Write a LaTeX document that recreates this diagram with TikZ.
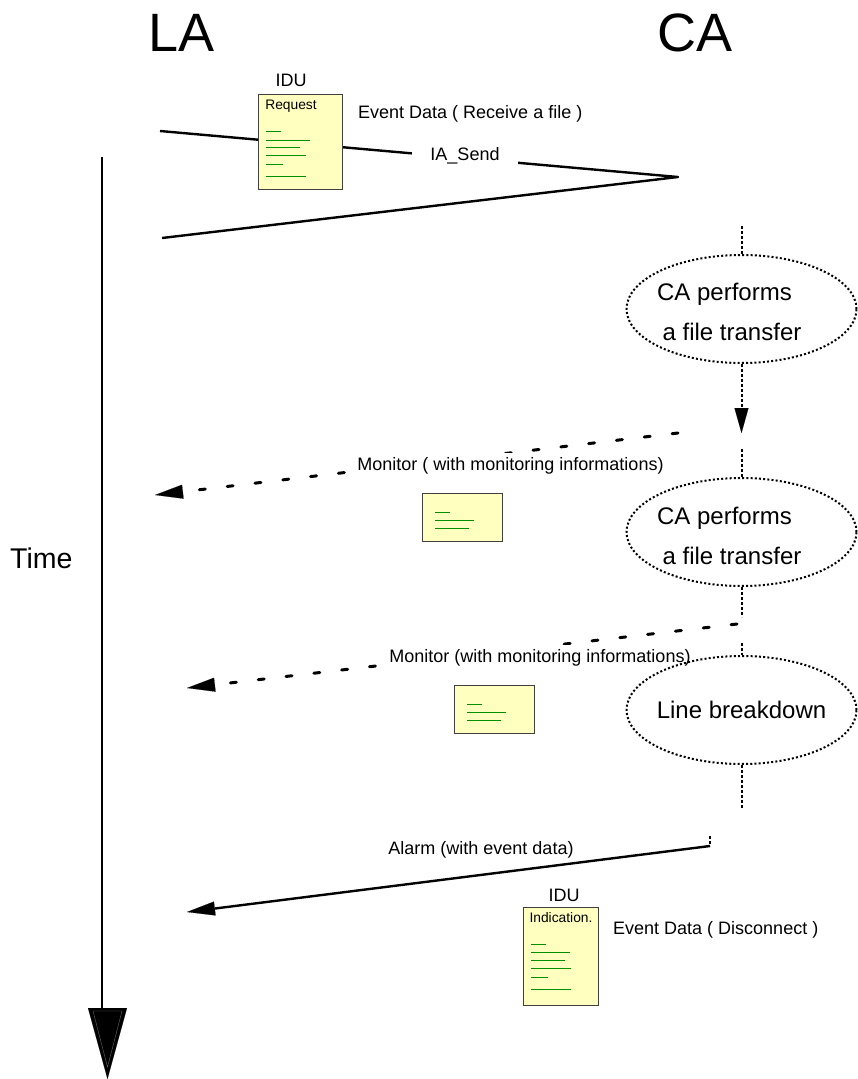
\documentclass[tikz,border=0pt]{standalone}
\usepackage{fontspec}
\setmainfont{Liberation Sans}
\usetikzlibrary{arrows.meta,shapes.geometric}
\definecolor{docyellow}{HTML}{FFFFC0}
\definecolor{docgreen}{HTML}{008F00}
\tikzstyle{bigtitle} = [inner sep=0pt, font=\fontsize{54}{54}\selectfont]
\tikzstyle{bigtext} = [inner sep=0pt, font=\fontsize{24}{24}\selectfont]
\tikzstyle{note} = [inner sep=0pt, font=\fontsize{18}{18}\selectfont]
\tikzstyle{whitenote} = [note, fill=white, inner xsep=5pt, inner ysep=5pt]
\tikzstyle{doctitle} = [inner sep=0pt, font=\fontsize{13.8}{14}\selectfont]
\tikzstyle{doc} = [rectangle, draw=black!75, line width=1pt, fill=docyellow, inner sep=0pt]
\tikzstyle{cloud} = [ellipse, draw=black, line width=2pt, dash pattern=on 2pt off 2.2pt, minimum width=230pt, minimum height=108pt, inner sep=0pt]
\tikzstyle{dots} = [line width=2pt, dash pattern=on 2.5pt off 2.5pt]
\tikzstyle{solid line} = [line width=2.4pt, line join=round]
\tikzstyle{smallhead} = [-{Triangle[length=28pt,width=14pt]}, line width=0.1pt]
\tikzstyle{dashline} = [line width=3pt, dash pattern=on 6pt off 22pt, line cap=round]
\tikzstyle{textline} = [docgreen, line width=1pt]
\begin{document}
\begin{tikzpicture}[x=1pt,y=-1pt]
\useasboundingbox (0,0) rectangle (857,1079);
% titles
\node (LA)[bigtitle] at (181.5,33){LA};
\node (CA)[bigtitle] at (695,33){CA};
\node (Time)[bigtext, anchor=west, font=\fontsize{28.5}{29}\selectfont] at (10,558){Time};
% time axis
\coordinate (timeTop) at (102,157);
\coordinate (timeBase) at (102,1008);
\coordinate (headBase) at (107.5,1008);
\coordinate (timeEnd) at (107.5,1079);
\draw [solid line](timeTop) -- (timeBase);
\draw [-{Triangle[length=71pt,width=39pt]}, line width=0.1pt](headBase) -- (timeEnd);
\draw [black!60, line width=0.4pt](93,1011) -- (122,1011) -- (107.5,1067) -- cycle;
% request
\coordinate (sendStart) at (160,131);
\coordinate (sendTurn) at (678,177);
\coordinate (sendEnd) at (162,238);
\draw [solid line](sendStart) -- (sendTurn) -- (sendEnd);
\node (IASend)[whitenote, inner xsep=18pt] at (465,156){IA\_Send};
\node (ReqDoc)[doc, minimum width=84pt, minimum height=95pt] at (300,141.5){};
\node (ReqIDU)[note] at (291,80){IDU};
\node (ReqTitle)[doctitle] at (291,106){Request};
\node (ReqData)[note, anchor=west] at (358,114){Event Data ( Receive a file )};
\foreach \y/\x in {131/281,140/310,147/300,155/306,164/283,176/306}
  \draw [textline](266,\y) -- (\x,\y);
% first transfer
\coordinate (dotsA) at (741.5,226);
\node (TransferA)[cloud] at (741.5,309){};
\node (TextAa)[bigtext] at (724.5,294){CA performs};
\node (TextAb)[bigtext] at (732,332){a file transfer};
\coordinate (dotsB) at (741.5,408);
\coordinate (dotsEnd) at (741.5,433);
\draw [dots](dotsA) -- (TransferA.north);
\draw [dots](TransferA.south) -- (dotsB);
\draw [smallhead, -{Triangle[length=25pt,width=14pt]}](dotsB) -- (dotsEnd);
% first monitor
\coordinate (monAStart) at (678,433);
\coordinate (monAHead) at (183,491.7);
\coordinate (monAEnd) at (155,495);
\draw [dashline](monAStart) -- (monAHead);
\draw [smallhead](monAHead) -- (monAEnd);
\node (MonA)[whitenote] at (510.5,466){Monitor ( with monitoring informations)};
\node (MonADoc)[doc, minimum width=80pt, minimum height=48pt] at (462,517){};
\foreach \y/\x in {512/450,520/474,528/469}
  \draw [textline](435,\y) -- (\x,\y);
% second transfer
\coordinate (dotsC) at (741.5,449);
\node (TransferB)[cloud] at (741.5,532){};
\node (TextBa)[bigtext] at (724.5,518){CA performs};
\node (TextBb)[bigtext] at (732,556){a file transfer};
\coordinate (dotsD) at (741.5,617);
\draw [dots](dotsC) -- (TransferB.north);
\draw [dots](TransferB.south) -- (dotsD);
% second monitor
\coordinate (monBStart) at (737,624);
\coordinate (monBHead) at (215,684.7);
\coordinate (monBEnd) at (187,688);
\draw [dashline](monBStart) -- (monBHead);
\draw [smallhead](monBHead) -- (monBEnd);
\node (MonB)[whitenote] at (540,658){Monitor (with monitoring informations)};
\node (MonBDoc)[doc, minimum width=80pt, minimum height=48pt] at (494,709){};
\foreach \y/\x in {704/482,712/506,720/501}
  \draw [textline](467,\y) -- (\x,\y);
% line breakdown
\coordinate (dotsE) at (741.5,643);
\node (Breakdown)[cloud] at (741.5,710){};
\node (BreakdownText)[bigtext] at (741.5,710){Line breakdown};
\coordinate (dotsF) at (741.5,808);
\draw [dots](dotsE) -- (Breakdown.north);
\draw [dots](Breakdown.south) -- (dotsF);
% alarm
\coordinate (alarmTop) at (710,836);
\coordinate (alarmStart) at (710,846);
\coordinate (alarmHead) at (215,908.5);
\coordinate (alarmEnd) at (187,912);
\draw [dots](alarmTop) -- (alarmStart);
\draw [solid line](alarmStart) -- (alarmHead);
\draw [smallhead](alarmHead) -- (alarmEnd);
\node (Alarm)[note] at (481,850){Alarm (with event data)};
\node (IndDoc)[doc, minimum width=75pt, minimum height=98pt] at (560.5,956){};
\node (IndIDU)[note] at (564,895){IDU};
\node (IndTitle)[doctitle] at (561,917.5){Indication.};
\node (IndData)[note, anchor=west] at (613,930){Event Data ( Disconnect )};
\foreach \y/\x in {944/546,952/570,960/565,968/571,977/548,989/571}
  \draw [textline](531,\y) -- (\x,\y);
\end{tikzpicture}
\end{document}
